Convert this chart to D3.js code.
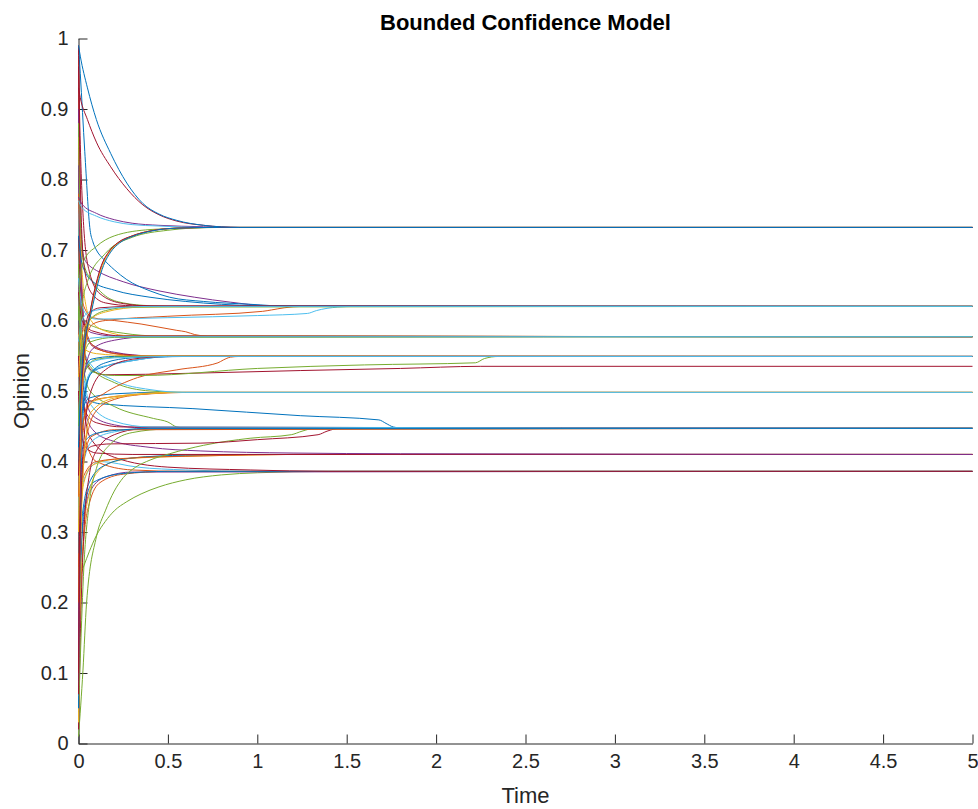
<!DOCTYPE html>
<html lang="en">
<head>
  <meta charset="utf-8" />
  <title>Bounded Confidence Model</title>
  <script src="https://cdn.jsdelivr.net/npm/d3@7/dist/d3.min.js"></script>
  <style>
    body { margin: 0; background: #fff; }
    svg { display: block; }
  </style>
</head>
<body>
<script>
// Size of the figure
var width = 978,
    height = 809;

// MATLAB default colour order
var palette = ["#0072BD", "#D95319", "#EDB120", "#7E2F8E", "#77AC30", "#4DBEEE", "#A2142F"];

var xTicks = [0, 0.5, 1, 1.5, 2, 2.5, 3, 3.5, 4, 4.5, 5];
var yTicks = [0, 0.1, 0.2, 0.3, 0.4, 0.5, 0.6, 0.7, 0.8, 0.9, 1];

// Opinion trajectories, [time, opinion], grouped by the cluster they end in.
// Each group has a parallel array of palette indexes.

// cluster ~0.732
var toTop = [
  [[0,0.775],[0.02,0.765],[0.1,0.752],[0.2,0.743],[0.3,0.738],[0.45,0.735],[0.7,0.733],[0.9,0.732],[5,0.732]],
  [[0,0.77],[0.02,0.76],[0.1,0.748],[0.2,0.740],[0.3,0.736],[0.45,0.734],[0.7,0.732],[5,0.732]],
  [[0,0.60],[0.01,0.66],[0.03,0.685],[0.1,0.705],[0.2,0.72],[0.4,0.729],[0.6,0.731],[0.8,0.732],[5,0.732]],
  [[0,0.55],[0.02,0.62],[0.05,0.655],[0.15,0.695],[0.3,0.718],[0.5,0.728],[0.75,0.732],[5,0.732]],
  [[0,0.35],[0.01,0.45],[0.03,0.54],[0.067,0.614],[0.1,0.652],[0.13,0.678],[0.17,0.697],[0.22,0.71],[0.3,0.72],[0.4,0.727],[0.55,0.731],[0.75,0.732],[5,0.732]],
  [[0,0.30],[0.01,0.43],[0.03,0.53],[0.07,0.612],[0.104,0.652],[0.135,0.678],[0.175,0.697],[0.225,0.71],[0.305,0.72],[0.4,0.727],[0.55,0.731],[0.75,0.732],[5,0.732]],
  [[0,0.38],[0.01,0.47],[0.03,0.55],[0.065,0.612],[0.098,0.652],[0.128,0.678],[0.168,0.697],[0.218,0.71],[0.3,0.72],[0.4,0.727],[0.55,0.731],[0.75,0.732],[5,0.732]],
  [[0,0.42],[0.01,0.49],[0.03,0.56],[0.072,0.612],[0.108,0.652],[0.14,0.678],[0.18,0.697],[0.23,0.71],[0.31,0.72],[0.41,0.727],[0.55,0.731],[0.75,0.732],[5,0.732]],
  [[0,0.93],[0.01,0.916],[0.05,0.885],[0.1,0.853],[0.18,0.818],[0.27,0.787],[0.36,0.764],[0.45,0.75],[0.55,0.741],[0.7,0.735],[0.9,0.732],[5,0.732]],
  [[0,0.99],[0.01,0.975],[0.05,0.93],[0.1,0.885],[0.18,0.837],[0.27,0.795],[0.36,0.766],[0.45,0.751],[0.55,0.742],[0.7,0.735],[0.9,0.732],[5,0.732]]
];
var toTopColor = [3, 5, 4, 4, 1, 2, 6, 0, 6, 0];

// cluster ~0.620
var toB = [
  [[0,0.82],[0.01,0.75],[0.025,0.695],[0.04,0.684],[0.06,0.678],[0.1,0.671],[0.25,0.655],[0.45,0.642],[0.65,0.633],[0.85,0.626],[1.05,0.621],[1.3,0.620],[5,0.62]],
  [[0,0.99],[0.01,0.95],[0.035,0.84],[0.065,0.728],[0.08,0.712],[0.1,0.70],[0.14,0.687],[0.2,0.672],[0.27,0.658],[0.4,0.642],[0.51,0.633],[0.7,0.627],[0.96,0.623],[1.2,0.620],[5,0.62]],
  [[0,0.88],[0.01,0.75],[0.03,0.68],[0.08,0.655],[0.15,0.635],[0.25,0.625],[0.4,0.621],[0.6,0.620],[5,0.62]],
  [[0,0.2],[0.01,0.45],[0.03,0.56],[0.08,0.595],[0.15,0.6],[0.5,0.606],[1.03,0.613],[1.08,0.615],[1.15,0.618],[1.25,0.62],[5,0.62]],
  [[0,0.66],[0.02,0.62],[0.06,0.605],[0.1,0.602],[0.5,0.604],[1.0,0.607],[1.28,0.610],[1.33,0.614],[1.45,0.619],[1.55,0.62],[5,0.62]],
  [[0,0.1],[0.01,0.4],[0.03,0.57],[0.06,0.61],[0.12,0.618],[0.3,0.62],[5,0.62]],
  [[0,0.52],[0.02,0.58],[0.06,0.60],[0.15,0.612],[0.35,0.619],[0.6,0.62],[5,0.62]],
  [[0,0.72],[0.02,0.68],[0.08,0.655],[0.2,0.643],[0.4,0.633],[0.6,0.627],[0.8,0.623],[1.0,0.621],[5,0.62]],
  [[0,0.99],[0.01,0.8],[0.03,0.68],[0.07,0.64],[0.15,0.625],[0.3,0.621],[5,0.62]],
  [[0,0.96],[0.01,0.85],[0.03,0.73],[0.06,0.67],[0.12,0.638],[0.25,0.624],[0.45,0.62],[5,0.62]],
  [[0,0.45],[0.02,0.56],[0.06,0.60],[0.15,0.614],[0.3,0.619],[5,0.62]],
  [[0,0.57],[0.02,0.6],[0.06,0.612],[0.2,0.618],[0.4,0.62],[5,0.62]]
];
var toBColor = [3, 0, 4, 1, 5, 6, 2, 0, 6, 6, 4, 5];

// cluster ~0.577
var toC = [
  [[0,0.78],[0.01,0.68],[0.03,0.62],[0.08,0.604],[0.2,0.6],[0.35,0.595],[0.55,0.586],[0.6,0.584],[0.65,0.58],[0.72,0.578],[5,0.577]],
  [[0,0.62],[0.03,0.6],[0.1,0.59],[0.25,0.582],[0.45,0.578],[5,0.577]],
  [[0,0.13],[0.01,0.4],[0.03,0.52],[0.08,0.56],[0.2,0.572],[0.4,0.577],[5,0.577]],
  [[0,0.9],[0.01,0.7],[0.03,0.6],[0.07,0.583],[0.2,0.578],[5,0.577]],
  [[0,0.86],[0.01,0.74],[0.03,0.64],[0.07,0.6],[0.15,0.585],[0.3,0.578],[5,0.577]],
  [[0,0.64],[0.02,0.6],[0.08,0.585],[0.25,0.578],[5,0.577]],
  [[0,0.33],[0.01,0.47],[0.03,0.55],[0.07,0.57],[0.2,0.576],[5,0.577]],
  [[0,0.3],[0.01,0.48],[0.03,0.56],[0.07,0.575],[0.2,0.577],[5,0.577]]
];
var toCColor = [1, 4, 3, 3, 2, 6, 4, 5];

// cluster ~0.549
var toD = [
  [[0,0.05],[0.01,0.3],[0.03,0.48],[0.07,0.525],[0.15,0.535],[0.3,0.543],[0.45,0.548],[0.6,0.549],[5,0.549]],
  [[0,0.15],[0.01,0.38],[0.03,0.5],[0.08,0.53],[0.2,0.538],[0.35,0.545],[0.5,0.549],[5,0.549]],
  [[0,0.33],[0.01,0.42],[0.03,0.49],[0.07,0.525],[0.15,0.54],[0.3,0.547],[0.5,0.549],[5,0.549]],
  [[0,0.95],[0.01,0.75],[0.03,0.6],[0.08,0.565],[0.2,0.555],[0.4,0.55],[5,0.549]],
  [[0,0.72],[0.01,0.65],[0.04,0.58],[0.1,0.56],[0.25,0.552],[0.5,0.549],[5,0.549]],
  [[0,0.58],[0.03,0.56],[0.1,0.553],[0.3,0.55],[5,0.549]],
  [[0,0.25],[0.01,0.4],[0.03,0.46],[0.065,0.482],[0.14,0.496],[0.33,0.519],[0.55,0.53],[0.78,0.540],[0.81,0.544],[0.85,0.548],[0.9,0.549],[5,0.549]],
  [[0,0.68],[0.01,0.6],[0.03,0.545],[0.08,0.527],[0.2,0.522],[0.36,0.522],[1.0,0.532],[1.6,0.537],[2.22,0.540],[2.27,0.546],[2.35,0.549],[5,0.549]],
  [[0,0.97],[0.01,0.72],[0.03,0.6],[0.08,0.565],[0.2,0.553],[0.4,0.549],[5,0.549]],
  [[0,0.27],[0.01,0.44],[0.03,0.52],[0.07,0.545],[0.2,0.549],[5,0.549]],
  [[0,0.46],[0.01,0.5],[0.04,0.53],[0.1,0.545],[0.3,0.549],[5,0.549]],
  [[0,0.07],[0.01,0.3],[0.03,0.43],[0.07,0.5],[0.15,0.53],[0.3,0.545],[0.5,0.549],[5,0.549]],
  [[0,0.45],[0.02,0.52],[0.06,0.54],[0.2,0.547],[0.5,0.549],[5,0.549]]
];
var toDColor = [0, 5, 0, 3, 6, 2, 1, 4, 1, 0, 4, 6, 5];

// cluster ~0.535
var toE = [
  [[0,0.85],[0.01,0.68],[0.03,0.56],[0.07,0.53],[0.15,0.523],[0.6,0.525],[1.24,0.529],[1.8,0.532],[2.25,0.535],[5,0.535]]
];
var toEColor = [6];

// cluster ~0.498
var toF = [
  [[0,0.18],[0.01,0.38],[0.03,0.46],[0.06,0.485],[0.2,0.492],[0.4,0.496],[0.6,0.498],[5,0.498]],
  [[0,0.26],[0.01,0.33],[0.03,0.41],[0.06,0.45],[0.1,0.472],[0.2,0.488],[0.35,0.495],[0.55,0.498],[5,0.498]],
  [[0,0.62],[0.02,0.56],[0.065,0.535],[0.2,0.512],[0.4,0.5],[0.6,0.498],[5,0.498]],
  [[0,0.4],[0.02,0.47],[0.06,0.49],[0.2,0.496],[0.45,0.498],[5,0.498]],
  [[0,0.22],[0.01,0.4],[0.04,0.47],[0.1,0.487],[0.3,0.495],[0.5,0.498],[5,0.498]],
  [[0,0.03],[0.01,0.25],[0.03,0.4],[0.07,0.47],[0.2,0.49],[0.45,0.497],[0.6,0.498],[5,0.498]],
  [[0,0.78],[0.01,0.62],[0.03,0.56],[0.065,0.539],[0.2,0.515],[0.4,0.502],[0.6,0.498],[5,0.498]]
];
var toFColor = [1, 1, 4, 0, 2, 2, 5];

// cluster ~0.447
var toG = [
  [[0,0.62],[0.01,0.55],[0.03,0.5],[0.06,0.487],[0.12,0.482],[0.64,0.475],[1.24,0.465],[1.68,0.459],[1.72,0.454],[1.76,0.449],[1.82,0.447],[5,0.447]],
  [[0,0.01],[0.025,0.104],[0.045,0.199],[0.1,0.293],[0.15,0.33],[0.2,0.358],[0.25,0.377],[0.32,0.392],[0.4,0.402],[0.51,0.411],[0.7,0.423],[0.96,0.433],[1.19,0.438],[1.25,0.443],[1.32,0.447],[5,0.447]],
  [[0,0.3],[0.01,0.38],[0.03,0.41],[0.08,0.422],[0.18,0.425],[0.68,0.426],[1.0,0.431],[1.34,0.438],[1.39,0.443],[1.46,0.447],[5,0.447]],
  [[0,0.74],[0.01,0.6],[0.03,0.53],[0.065,0.50],[0.2,0.478],[0.42,0.461],[0.5,0.456],[0.55,0.449],[0.62,0.447],[5,0.447]],
  [[0,0.02],[0.01,0.15],[0.03,0.3],[0.06,0.38],[0.1,0.415],[0.2,0.438],[0.35,0.446],[5,0.447]],
  [[0,0.04],[0.01,0.12],[0.03,0.25],[0.06,0.34],[0.1,0.39],[0.18,0.425],[0.3,0.441],[0.5,0.446],[5,0.447]],
  [[0,0.9],[0.01,0.62],[0.03,0.5],[0.08,0.465],[0.2,0.452],[0.35,0.448],[5,0.447]],
  [[0,0.55],[0.01,0.5],[0.04,0.47],[0.1,0.455],[0.25,0.449],[5,0.447]],
  [[0,0.12],[0.01,0.3],[0.03,0.4],[0.08,0.43],[0.2,0.442],[0.35,0.446],[5,0.447]],
  [[0,0.08],[0.01,0.28],[0.03,0.4],[0.07,0.435],[0.2,0.445],[5,0.447]],
  [[0,0.87],[0.01,0.62],[0.03,0.52],[0.07,0.48],[0.2,0.457],[0.4,0.449],[5,0.447]],
  [[0,0.35],[0.01,0.4],[0.04,0.43],[0.1,0.44],[0.25,0.445],[0.4,0.447],[5,0.447]]
];
var toGColor = [0, 4, 6, 4, 6, 4, 3, 6, 5, 1, 5, 0];

// cluster ~0.410
var toH = [
  [[0,0.15],[0.01,0.3],[0.03,0.37],[0.08,0.395],[0.2,0.403],[0.7,0.408],[1.2,0.41],[5,0.41]],
  [[0,0.1],[0.01,0.2],[0.03,0.3],[0.06,0.355],[0.1,0.383],[0.2,0.4],[0.4,0.407],[0.8,0.409],[1.2,0.41],[5,0.41]],
  [[0,0.24],[0.01,0.29],[0.03,0.34],[0.07,0.375],[0.15,0.395],[0.3,0.405],[0.6,0.409],[1.0,0.41],[5,0.41]],
  [[0,0.2],[0.01,0.33],[0.03,0.38],[0.1,0.4],[0.3,0.405],[0.7,0.408],[1.2,0.41],[5,0.41]],
  [[0,0.5],[0.01,0.45],[0.04,0.42],[0.1,0.412],[0.3,0.41],[5,0.41]],
  [[0,0.66],[0.01,0.55],[0.03,0.48],[0.08,0.445],[0.18,0.43],[0.4,0.42],[0.68,0.415],[1.2,0.412],[1.8,0.411],[5,0.41]]
];
var toHColor = [2, 2, 0, 1, 6, 3];

// cluster ~0.386
var toI = [
  [[0,0.28],[0.01,0.34],[0.04,0.38],[0.12,0.4],[0.33,0.392],[0.6,0.388],[1.0,0.386],[5,0.386]],
  [[0,0.232],[0.03,0.252],[0.06,0.272],[0.1,0.295],[0.15,0.315],[0.2,0.33],[0.27,0.343],[0.35,0.354],[0.45,0.364],[0.6,0.374],[0.8,0.381],[1.0,0.384],[1.4,0.386],[5,0.386]],
  [[0,0.17],[0.01,0.25],[0.03,0.32],[0.07,0.36],[0.15,0.378],[0.3,0.385],[5,0.386]],
  [[0,0.11],[0.01,0.2],[0.03,0.29],[0.06,0.34],[0.12,0.37],[0.25,0.382],[0.5,0.386],[5,0.386]],
  [[0,0.6],[0.01,0.5],[0.04,0.43],[0.1,0.4],[0.3,0.388],[0.6,0.386],[5,0.386]],
  [[0,0.05],[0.01,0.22],[0.03,0.33],[0.08,0.37],[0.25,0.383],[0.5,0.386],[5,0.386]],
  [[0,0.92],[0.01,0.6],[0.03,0.48],[0.065,0.434],[0.2,0.406],[0.5,0.392],[0.96,0.388],[1.4,0.386],[5,0.386]]
];
var toIColor = [5, 4, 3, 1, 1, 0, 6];

var groups = [
  [toI, toIColor], [toH, toHColor], [toG, toGColor], [toF, toFColor],
  [toE, toEColor], [toD, toDColor], [toC, toCColor], [toB, toBColor], [toTop, toTopColor]
];

// Plot box (pixel corners of the axes)
var plot = { left: 78.5, right: 972.5, top: 38.5, bottom: 743.5 };

var svg = d3.select("body")
  .append("svg")
  .attr("xmlns", "http://www.w3.org/2000/svg")
  .attr("width", width)
  .attr("height", height);

var x = d3.scaleLinear().domain([0, 5]).range([plot.left, plot.right]);
var y = d3.scaleLinear().domain([0, 1]).range([plot.bottom, plot.top]);

var font = '"Liberation Sans", Arial, Helvetica, sans-serif';

// axes (MATLAB style: ticks inside, no box)
var xAxis = svg.append("g")
  .attr("transform", "translate(0," + plot.bottom + ")")
  .call(d3.axisBottom(x).tickValues(xTicks).tickSize(-9).tickSizeOuter(0).tickPadding(10).tickFormat(d3.format("")));

var yAxis = svg.append("g")
  .attr("transform", "translate(" + plot.left + ",0)")
  .call(d3.axisLeft(y).tickValues(yTicks).tickSize(-9).tickSizeOuter(0).tickPadding(10).tickFormat(d3.format("")));

[xAxis, yAxis].forEach(function(a) {
  a.selectAll("path, line").attr("stroke", "#262626");
  a.selectAll("text").attr("fill", "#262626").attr("font-size", "20px").attr("font-family", font);
});

// trajectories
var line = d3.line()
  .x(function(d) { return x(d[0]); })
  .y(function(d) { return y(d[1]); })
  .curve(d3.curveMonotoneX);

var lines = svg.append("g").attr("fill", "none").attr("stroke-width", 1);

groups.forEach(function(grp) {
  grp[0].forEach(function(traj, i) {
    lines.append("path")
      .attr("d", line(traj))
      .attr("stroke", palette[grp[1][i]]);
  });
});

// labels
svg.append("text")
  .attr("x", (plot.left + plot.right) / 2)
  .attr("y", 30)
  .attr("text-anchor", "middle")
  .attr("font-family", font)
  .attr("font-weight", "bold")
  .attr("font-size", "22px")
  .attr("fill", "#000")
  .text("Bounded Confidence Model");

svg.append("text")
  .attr("x", (plot.left + plot.right) / 2)
  .attr("y", 803)
  .attr("text-anchor", "middle")
  .attr("font-family", font)
  .attr("font-size", "22px")
  .attr("fill", "#262626")
  .text("Time");

svg.append("text")
  .attr("transform", "translate(29," + ((plot.top + plot.bottom) / 2) + ") rotate(-90)")
  .attr("text-anchor", "middle")
  .attr("font-family", font)
  .attr("font-size", "22px")
  .attr("fill", "#262626")
  .text("Opinion");
</script>
</body>
</html>
